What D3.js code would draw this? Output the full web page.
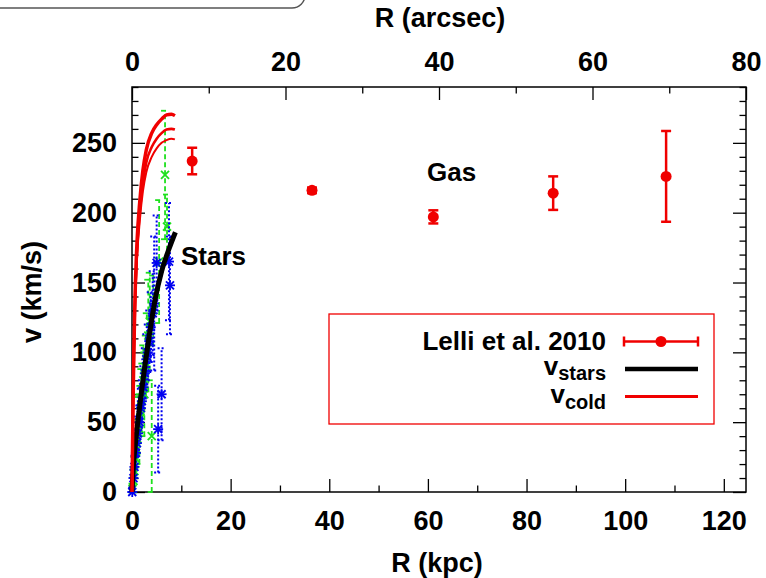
<!DOCTYPE html>
<html>
<head>
<meta charset="utf-8">
<script src="https://cdn.jsdelivr.net/npm/d3@7"></script>
<style>
  html, body { margin: 0; padding: 0; background: #fff; }
  svg { display: block; font-family: "Liberation Sans", Arial, Helvetica, sans-serif; font-weight: bold; }
</style>
</head>
<body>
<svg id="chart" width="766" height="578"></svg>
<script>
// Gas rotation curve (Lelli et al. 2010): radius [kpc], velocity and error [km/s]
const gasR = [12.2, 36.5, 61.1, 85.4, 108.3];
const gasV = [237, 216, 197, 214, 226];
const gasE = [9.5, 2, 4.7, 12, 32.5];

// Stellar kinematics, first set (green crosses, dashed error bars)
const greenR = [0.1, 0.3, 0.5, 0.7, 0.9, 1.1, 1.3, 1.5, 1.7, 1.9, 2.1, 2.3, 2.5, 2.8, 3.0, 3.3, 3.6, 4.0, 4.3, 5.5, 6.7, 7.1];
const greenV = [2, 8, 15, 24, 30, 38, 48, 45, 58, 66, 72, 80, 70, 90, 100, 112, 122, 40, 130, 165, 227, 190];
const greenE = [4, 8, 10, 12, 15, 14, 20, 25, 18, 22, 20, 25, 30, 22, 28, 40, 35, 40, 25, 44, 46, 23];

// Stellar kinematics, second set (blue asterisks, dotted error bars)
const blueR = [0.05, 0.3, 0.5, 0.8, 1.0, 1.2, 1.5, 1.8, 2.0, 2.3, 2.6, 2.9, 3.2, 3.5, 3.8, 4.2, 4.5, 5.0, 5.3, 6.0, 7.5, 7.7];
const blueV = [0, 10, 18, 28, 35, 42, 50, 60, 65, 75, 85, 95, 100, 108, 118, 128, 135, 164, 45, 70, 165, 148];
const blueE = [3, 6, 8, 10, 10, 12, 12, 14, 15, 15, 18, 18, 20, 22, 25, 30, 48, 34, 31, 33, 42, 35];

// Model curves: stellar contribution and cold-gas curves
const starR = [0, 0.3, 0.7, 1.3, 2.0, 2.6, 3.5, 4.7, 6.0, 7.5, 8.8];
const starV = [0, 20, 35, 54, 74, 90, 112, 138, 158, 174, 186];

const coldR = [0, 0.2, 0.4, 0.6, 1.0, 1.6, 2.2, 2.9, 4.0, 5.0, 6.0, 7.0, 8.0, 8.7];
const coldA = [0, 60, 105, 138, 178, 209, 230, 245, 257, 263, 267, 270, 270.5, 269.5];
const coldB = [0, 58, 101, 133, 171, 201, 221, 236, 247, 253, 257, 259.5, 260, 259.5];
const coldC = [0, 56, 98, 129, 166, 195, 215, 229, 240, 246, 250, 252, 253, 252.5];

// Axis ticks
const kpcMajor = [0, 20, 40, 60, 80, 100, 120];
const kpcMinor = [10, 30, 50, 70, 90, 110];
const arcMajor = [0, 20, 40, 60, 80];
const arcMinor = [10, 30, 50, 70];
const vMajor = [0, 50, 100, 150, 200, 250];
const vMinor = d3.range(0, 291, 10);

const L = 132, R = 746, T = 87, B = 492;
const FS = 27;
const svg = d3.select("#chart");

const x = d3.scaleLinear().domain([0, 124.5]).range([L, R]);
const xa = d3.scaleLinear().domain([0, 80]).range([L, R]);
const y = d3.scaleLinear().domain([0, 290]).range([B, T]);

const RED = "#f00000", GREEN = "#1ee01e", BLUE = "#0000f0";

// Panel tag box at the top-left
svg.append("rect").attr("x", -20).attr("y", -30).attr("width", 325).attr("height", 38)
  .attr("rx", 13).attr("fill", "none").attr("stroke", "#555").attr("stroke-width", 1.5);
svg.append("text").attr("x", 76).attr("y", -3).attr("font-size", 14).attr("font-weight", "normal").text("(a)");

// Axes (ticks point inward)
function styleAxis(g) {
  g.select(".domain").remove();
  g.selectAll("line").attr("stroke", "#000").attr("stroke-width", 1.3);
  g.selectAll("text").attr("font-size", FS).attr("font-weight", "bold").attr("fill", "#000")
    .attr("font-family", "Liberation Sans, Arial, sans-serif");
}
svg.append("g").attr("transform", `translate(0,${B})`)
  .call(d3.axisBottom(x).tickValues(kpcMinor).tickSize(-6.5).tickFormat(""))
  .call(styleAxis);
svg.append("g").attr("transform", `translate(0,${B})`)
  .call(d3.axisBottom(x).tickValues(kpcMajor).tickSize(-13).tickPadding(19).tickFormat(d3.format("d")))
  .call(styleAxis);
svg.append("g").attr("transform", `translate(0,${T})`)
  .call(d3.axisTop(xa).tickValues(arcMinor).tickSize(-6.5).tickFormat(""))
  .call(styleAxis);
svg.append("g").attr("transform", `translate(0,${T})`)
  .call(d3.axisTop(xa).tickValues(arcMajor).tickSize(-13).tickPadding(16).tickFormat(d3.format("d")))
  .call(styleAxis);
svg.append("g").attr("transform", `translate(${L},0)`)
  .call(d3.axisLeft(y).tickValues(vMinor.filter(v => v % 50 !== 0)).tickSize(-6.5).tickFormat(""))
  .call(styleAxis);
svg.append("g").attr("transform", `translate(${L},0)`)
  .call(d3.axisLeft(y).tickValues(vMajor).tickSize(-13).tickPadding(15).tickFormat(d3.format("d")))
  .call(styleAxis);
svg.append("g").attr("transform", `translate(${R},0)`)
  .call(d3.axisRight(y).tickValues(vMinor.filter(v => v % 50 !== 0)).tickSize(-6.5).tickFormat(""))
  .call(styleAxis);
svg.append("g").attr("transform", `translate(${R},0)`)
  .call(d3.axisRight(y).tickValues(vMajor).tickSize(-13).tickFormat(""))
  .call(styleAxis);

// Frame
svg.append("rect").attr("x", L).attr("y", T).attr("width", R - L).attr("height", B - T)
  .attr("fill", "none").attr("stroke", "#000").attr("stroke-width", 1.5);

// Axis titles
svg.append("text").attr("x", 440).attr("y", 27).attr("text-anchor", "middle").attr("font-size", FS).text("R (arcsec)");
svg.append("text").attr("x", 437).attr("y", 572).attr("text-anchor", "middle").attr("font-size", FS).text("R (kpc)");
svg.append("text").attr("transform", "translate(41,292) rotate(-90)").attr("text-anchor", "middle")
  .attr("font-size", FS).text("v (km/s)");

const plot = svg.append("g");

// Error-bar helper
function errorBars(R_, V_, E_, color, dash, width, cap) {
  const g = plot.append("g").attr("stroke", color).attr("stroke-width", width).attr("fill", "none");
  R_.forEach((r, i) => {
    const cx = x(r), lo = y(Math.max(0, V_[i] - E_[i])), hi = y(V_[i] + E_[i]);
    g.append("line").attr("x1", cx).attr("x2", cx).attr("y1", lo).attr("y2", hi).attr("stroke-dasharray", dash);
    g.append("line").attr("x1", cx - cap).attr("x2", cx + cap).attr("y1", hi).attr("y2", hi).attr("stroke-dasharray", dash);
    g.append("line").attr("x1", cx - cap).attr("x2", cx + cap).attr("y1", lo).attr("y2", lo).attr("stroke-dasharray", dash);
  });
  return g;
}

// Green data: dashed error bars and crosses
errorBars(greenR, greenV, greenE, GREEN, "5,3", 1.8, 4);
const gm = plot.append("g").attr("stroke", GREEN).attr("stroke-width", 1.8);
greenR.forEach((r, i) => {
  const cx = x(r), cy = y(greenV[i]), s = 4;
  gm.append("line").attr("x1", cx - s).attr("x2", cx + s).attr("y1", cy - s).attr("y2", cy + s);
  gm.append("line").attr("x1", cx - s).attr("x2", cx + s).attr("y1", cy + s).attr("y2", cy - s);
});

// Blue data: dotted error bars and asterisks
errorBars(blueR, blueV, blueE, BLUE, "2,2", 2, 4);
const bm = plot.append("g").attr("stroke", BLUE).attr("stroke-width", 1.8);
blueR.forEach((r, i) => {
  const cx = x(r), cy = y(blueV[i]), s = 4;
  bm.append("line").attr("x1", cx - s).attr("x2", cx + s).attr("y1", cy - s).attr("y2", cy + s);
  bm.append("line").attr("x1", cx - s).attr("x2", cx + s).attr("y1", cy + s).attr("y2", cy - s);
  bm.append("line").attr("x1", cx - s - 1).attr("x2", cx + s + 1).attr("y1", cy).attr("y2", cy);
  bm.append("line").attr("x1", cx).attr("x2", cx).attr("y1", cy - s - 1).attr("y2", cy + s + 1);
});

// Stellar curve
const line = d3.line().x(d => x(d[0])).y(d => y(d[1])).curve(d3.curveMonotoneX);
plot.append("path").datum(d3.zip(starR, starV)).attr("d", line)
  .attr("fill", "none").attr("stroke", "#000").attr("stroke-width", 5).attr("stroke-linecap", "butt");

// Cold-gas curves
[[coldA, 3.5], [coldB, 2.6], [coldC, 2]].forEach(([vals, w]) => {
  plot.append("path").datum(d3.zip(coldR, vals)).attr("d", line)
    .attr("fill", "none").attr("stroke", RED).attr("stroke-width", w);
});

// Gas data points
const gg = plot.append("g").attr("stroke", RED).attr("stroke-width", 2.5);
gasR.forEach((r, i) => {
  const cx = x(r), hi = y(gasV[i] + gasE[i]), lo = y(gasV[i] - gasE[i]);
  gg.append("line").attr("x1", cx).attr("x2", cx).attr("y1", lo).attr("y2", hi);
  gg.append("line").attr("x1", cx - 5).attr("x2", cx + 5).attr("y1", hi).attr("y2", hi);
  gg.append("line").attr("x1", cx - 5).attr("x2", cx + 5).attr("y1", lo).attr("y2", lo);
  gg.append("circle").attr("cx", cx).attr("cy", y(gasV[i])).attr("r", 5.5).attr("fill", RED).attr("stroke", "none");
});

// Annotations
svg.append("text").attr("x", 181).attr("y", 265).attr("font-size", 26).text("Stars");
svg.append("text").attr("x", 427).attr("y", 181).attr("font-size", 26).text("Gas");

// Legend
const lg = svg.append("g");
lg.append("rect").attr("x", 329).attr("y", 314).attr("width", 385).attr("height", 110)
  .attr("fill", "#fff").attr("stroke", RED).attr("stroke-width", 1.3);
lg.append("text").attr("x", 606).attr("y", 350).attr("text-anchor", "end").attr("font-size", 26).text("Lelli et al. 2010");
lg.append("line").attr("x1", 624).attr("x2", 698).attr("y1", 341.5).attr("y2", 341.5).attr("stroke", RED).attr("stroke-width", 2.5);
lg.append("line").attr("x1", 624).attr("x2", 624).attr("y1", 336.5).attr("y2", 346.5).attr("stroke", RED).attr("stroke-width", 2.5);
lg.append("line").attr("x1", 698).attr("x2", 698).attr("y1", 336.5).attr("y2", 346.5).attr("stroke", RED).attr("stroke-width", 2.5);
lg.append("circle").attr("cx", 661).attr("cy", 341.5).attr("r", 5.5).attr("fill", RED);

const t1 = lg.append("text").attr("x", 606).attr("y", 375).attr("text-anchor", "end").attr("font-size", 26);
t1.append("tspan").text("v");
t1.append("tspan").attr("dy", 5).attr("font-size", 20).text("stars");
lg.append("line").attr("x1", 625).attr("x2", 698).attr("y1", 369).attr("y2", 369).attr("stroke", "#000").attr("stroke-width", 4.5);

const t2 = lg.append("text").attr("x", 606).attr("y", 403).attr("text-anchor", "end").attr("font-size", 26);
t2.append("tspan").text("v");
t2.append("tspan").attr("dy", 6).attr("font-size", 20).text("cold");
lg.append("line").attr("x1", 625).attr("x2", 698).attr("y1", 396.5).attr("y2", 396.5).attr("stroke", RED).attr("stroke-width", 3);
</script>
</body>
</html>
